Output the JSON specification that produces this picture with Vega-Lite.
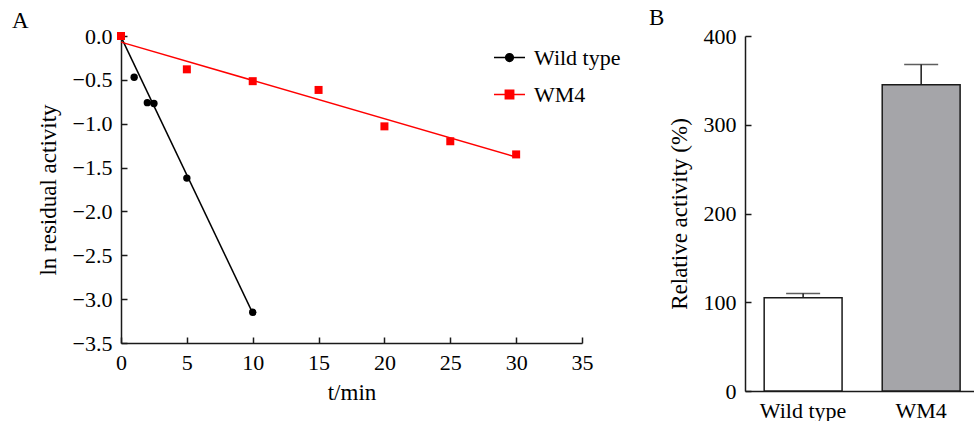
{
  "$schema": "https://vega.github.io/schema/vega-lite/v6.json",
  "padding": {"left": 12, "top": 7, "right": 0, "bottom": 0},
  "spacing": 56,
  "datasets": {
    "points": [
      {"series": "Wild type", "t": 0, "value": 0},
      {"series": "Wild type", "t": 1, "value": -0.47},
      {"series": "Wild type", "t": 2, "value": -0.76},
      {"series": "Wild type", "t": 2.5, "value": -0.77},
      {"series": "Wild type", "t": 5, "value": -1.62},
      {"series": "Wild type", "t": 10, "value": -3.15},
      {"series": "WM4", "t": 0, "value": 0},
      {"series": "WM4", "t": 5, "value": -0.38},
      {"series": "WM4", "t": 10, "value": -0.515},
      {"series": "WM4", "t": 15, "value": -0.615},
      {"series": "WM4", "t": 20, "value": -1.03},
      {"series": "WM4", "t": 25, "value": -1.2},
      {"series": "WM4", "t": 30, "value": -1.35}
    ],
    "fit": [
      {"series": "Wild type", "t": 0, "value": -0.01},
      {"series": "Wild type", "t": 10, "value": -3.16},
      {"series": "WM4", "t": 0, "value": -0.07},
      {"series": "WM4", "t": 30, "value": -1.38}
    ],
    "bars": [
      {"group": "Wild type", "value": 105, "upper": 110},
      {"group": "WM4", "value": 345, "upper": 368}
    ]
  },
  "hconcat": [
    {
      "width": 461,
      "height": 307,
      "title": {"text": "A", "frame": "group", "dx": -109, "offset": -8},
      "layer": [
        {
          "data": {"name": "fit"},
          "mark": {"type": "line", "strokeWidth": 1.5},
          "encoding": {
            "x": {"field": "t", "type": "quantitative", "scale": {"domain": [0, 35], "nice": false},
                  "axis": {"values": [0, 5, 10, 15, 20, 25, 30, 35], "title": "t/min", "titlePadding": 8, "labelFlush": false}},
            "y": {"field": "value", "type": "quantitative", "scale": {"domain": [-3.5, 0], "nice": false, "zero": false},
                  "axis": {"values": [-3.5, -3, -2.5, -2, -1.5, -1, -0.5, 0], "labelExpr": "replace(format(datum.value, '.1f'), '-', '−')",
                           "title": "ln residual activity", "titlePadding": 12, "labelFlush": false}},
            "color": {"field": "series", "type": "nominal",
                      "scale": {"domain": ["Wild type", "WM4"], "range": ["#000000", "#ff0000"]},
                      "legend": {"orient": "none", "legendX": 372, "legendY": 5, "title": null, "labelFontSize": 22, "labelColor": "#000000",
                                 "symbolSize": 961, "rowPadding": 9, "labelOffset": 8, "symbolStrokeWidth": 1.5, "padding": 0, "symbolOpacity": 1,
                                 "symbolType": {"expr": "datum.value === 'WM4' ? 'M-1,0H1M-0.27,-0.27H0.27V0.27H-0.27Z' : 'M-1,0H1M-0.25,0A0.25,0.25,0,1,1,0.25,0A0.25,0.25,0,1,1,-0.25,0Z'"},
                                 "symbolFillColor": {"expr": "datum.value === 'WM4' ? '#ff0000' : '#000000'"}}}
          }
        },
        {
          "data": {"name": "points"},
          "transform": [{"filter": {"field": "series", "equal": "Wild type"}}],
          "mark": {"type": "point", "filled": true, "opacity": 1, "size": 55, "shape": "circle"},
          "encoding": {
            "x": {"field": "t", "type": "quantitative"},
            "y": {"field": "value", "type": "quantitative"},
            "color": {"field": "series", "type": "nominal", "legend": null}
          }
        },
        {
          "data": {"name": "points"},
          "transform": [{"filter": {"field": "series", "equal": "WM4"}}],
          "mark": {"type": "point", "filled": true, "opacity": 1, "size": 64, "shape": "square"},
          "encoding": {
            "x": {"field": "t", "type": "quantitative"},
            "y": {"field": "value", "type": "quantitative"},
            "color": {"field": "series", "type": "nominal", "legend": null}
          }
        }
      ]
    },
    {
      "width": 229,
      "height": 355,
      "title": {"text": "B", "frame": "group", "dx": -96, "offset": -5},
      "data": {"name": "bars"},
      "encoding": {
        "x": {"field": "group", "type": "nominal", "sort": null,
              "scale": {"paddingInner": 0.34, "paddingOuter": 0.14, "align": 0.58},
              "axis": {"title": null, "labelAngle": 0, "labelFontSize": 22}}
      },
      "layer": [
        {
          "mark": {"type": "bar", "stroke": "#1a1a1a", "strokeWidth": 1.5},
          "encoding": {
            "y": {"field": "value", "type": "quantitative", "scale": {"domain": [0, 400], "nice": false},
                  "axis": {"values": [0, 100, 200, 300, 400], "title": "Relative activity (%)", "titlePadding": 12, "labelFlush": false}},
            "fill": {"field": "group", "type": "nominal", "scale": {"domain": ["Wild type", "WM4"], "range": ["#ffffff", "#a5a5a9"]}, "legend": null}
          }
        },
        {
          "mark": {"type": "rule", "strokeWidth": 1.5, "color": "#1a1a1a"},
          "encoding": {"y": {"field": "value", "type": "quantitative"}, "y2": {"field": "upper"}}
        },
        {
          "mark": {"type": "tick", "thickness": 1.5, "size": 34, "color": "#1a1a1a"},
          "encoding": {"y": {"field": "upper", "type": "quantitative"}}
        }
      ]
    }
  ],
  "config": {
    "font": "Liberation Serif",
    "view": {"stroke": null},
    "axis": {"grid": false, "domainColor": "#1a1a1a", "domainWidth": 1.5, "tickColor": "#1a1a1a", "tickWidth": 1.5,
             "tickSize": -6, "labelPadding": 15, "labelFontSize": 22, "labelColor": "#000000",
             "titleFontSize": 23, "titleFontWeight": "normal", "titleColor": "#000000"},
    "title": {"fontSize": 23, "fontWeight": "normal", "anchor": "start", "color": "#000000"}
  }
}
